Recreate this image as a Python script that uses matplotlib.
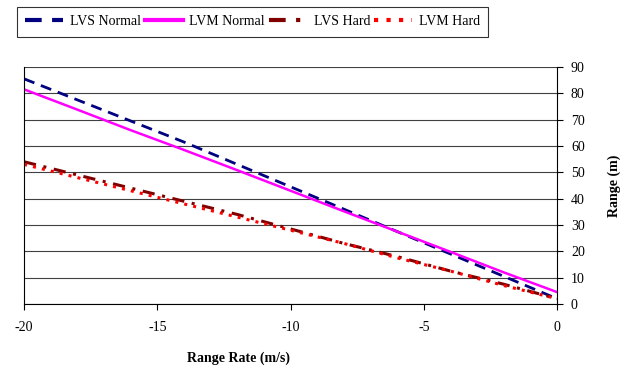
import matplotlib
matplotlib.use('Agg')
import matplotlib.pyplot as plt

plt.rcParams['font.family'] = ['Liberation Serif', 'DejaVu Serif']
plt.rcParams['axes.unicode_minus'] = False

# range rate (m/s)
rate = [-20, -18, -16, -14, -12, -10, -8, -6, -4, -2, 0]
# range (m) per series
lvs_normal = [85.5, 77.5, 69.5, 61.5, 53, 44.5, 36, 27.5, 19, 10.5, 2]
lvm_normal = [81.5, 73.8, 66, 58.5, 50.8, 43, 35.2, 27.5, 19.8, 12, 4.5]
lvs_hard = [54, 49, 44, 39, 34, 28.5, 23, 18, 12.5, 7.5, 2]
lvm_hard = [53, 48, 43, 38, 33, 28, 23, 17.5, 12.5, 7, 2]

x_ticks = [-20, -15, -10, -5, 0]
y_ticks = [0, 10, 20, 30, 40, 50, 60, 70, 80, 90]

fig = plt.figure(figsize=(6.33, 3.68), dpi=100)
ax = fig.add_axes([0.038, 0.174, 0.842, 0.644])

ax.plot(rate, lvs_normal, color='#000080', lw=2, dashes=(4, 2.5), label='LVS Normal')
ax.plot(rate, lvm_normal, color='#ff00ff', lw=1.8, label='LVM Normal')
ax.plot(rate, lvs_hard, color='#800000', lw=2.2, dashes=(4, 2.5, 1, 2.5), label='LVS Hard')
ax.plot(rate, lvm_hard, color='#ff0000', lw=2.2, dashes=(1, 2), label='LVM Hard')

ax.set_xlim(-20, 0)
ax.set_ylim(0, 90)
ax.set_xticks(x_ticks)
ax.set_yticks(y_ticks)
ax.yaxis.tick_right()
ax.yaxis.set_label_position('right')
ax.grid(axis='y', color='#404040', lw=0.8)
ax.set_axisbelow(True)

ax.spines['top'].set_visible(False)
for s in ['left', 'right', 'bottom']:
    ax.spines[s].set_linewidth(0.8)
ax.tick_params(axis='both', direction='out', length=4, width=0.8, labelsize=10)
ax.tick_params(axis='x', pad=8)
ax.tick_params(axis='y', pad=6)

ax.set_xlabel('Range Rate (m/s)', fontsize=10, fontweight='bold')
ax.xaxis.set_label_coords(0.403, -0.2)
ax.set_ylabel('Range (m)', fontsize=10, fontweight='bold', labelpad=16)

leg = fig.legend(loc='upper left', bbox_to_anchor=(0.027, 0.981),
                 ncol=4, fontsize=10, frameon=True, fancybox=False,
                 borderaxespad=0, borderpad=0.6, handlelength=2.7,
                 handletextpad=0.5, columnspacing=0.3)
leg.get_frame().set_edgecolor('black')
leg.get_frame().set_linewidth(0.8)
for h in leg.get_lines():
    h.set_linewidth(3)

fig.savefig('out.png', dpi=100)
